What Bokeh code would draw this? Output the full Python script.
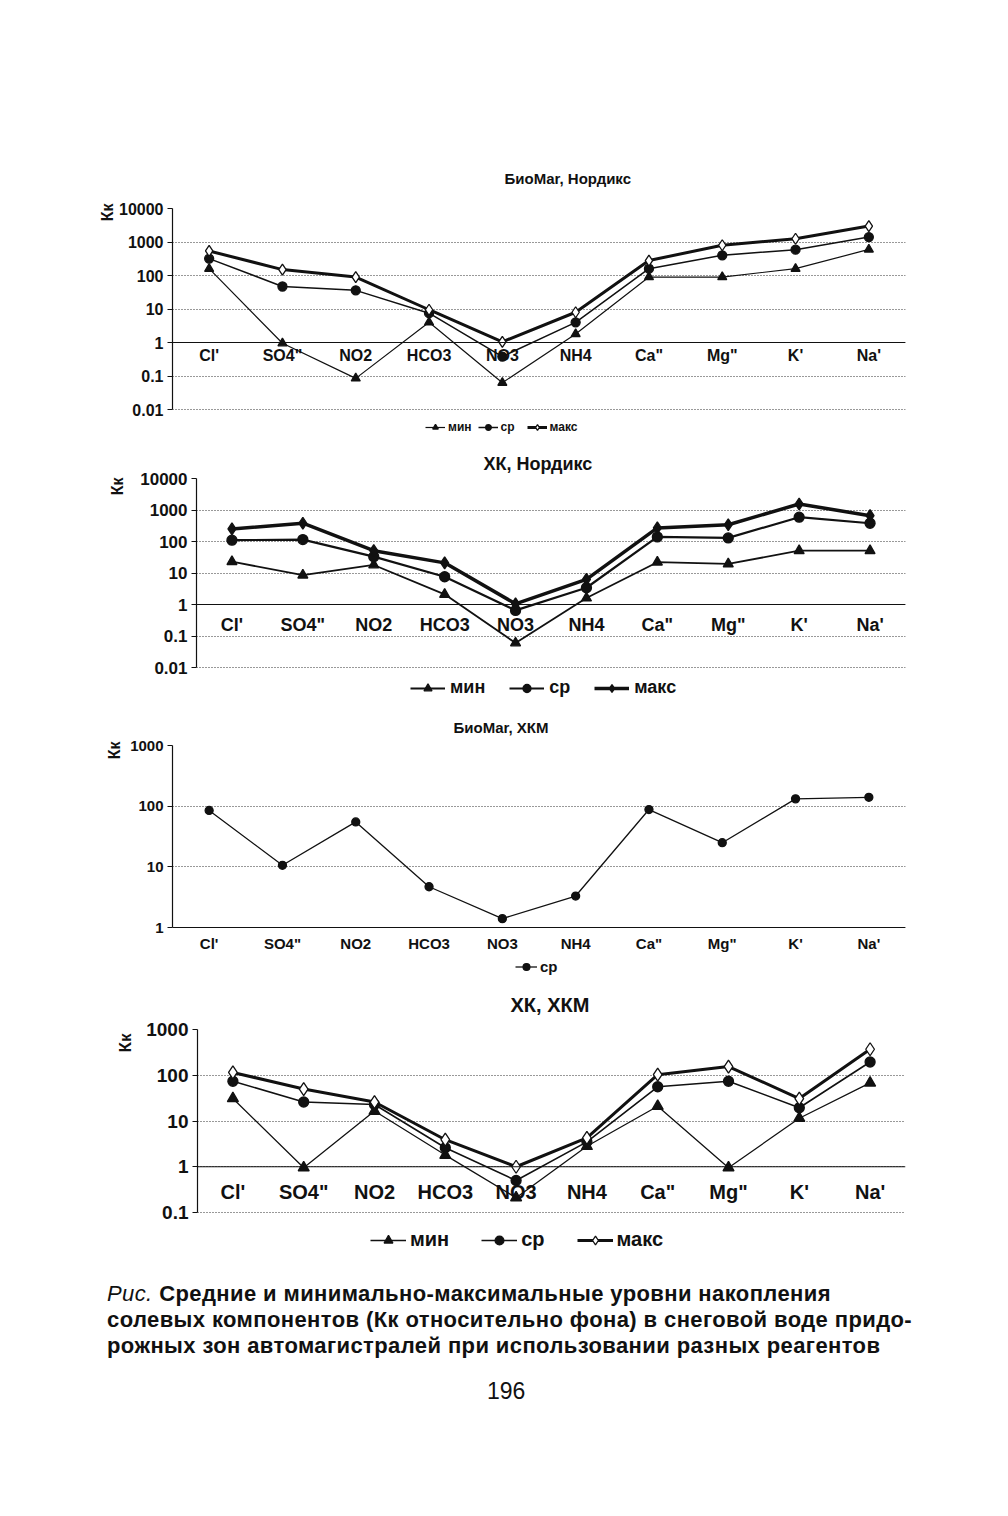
from bokeh.plotting import figure
from bokeh.models import (ColumnDataSource, FactorRange, Range1d, FixedTicker,
                          Title, Legend, LegendItem, Span, Div)
from bokeh.core.properties import value
from bokeh.embed import file_html
from bokeh.resources import INLINE

# ---------------- data ----------------
categories = ["Cl'", 'SO4"', "NO2", "HCO3", "NO3", "NH4", 'Ca"', 'Mg"', "K'", "Na'"]

series_names = ["мин", "ср", "макс"]

# Chart 1: БиоMar, Нордикс
c1_min = [160, 0.95, 0.085, 4.0, 0.063, 1.8, 90, 90, 160, 600]
c1_avg = [320, 47, 36, 7.5, 0.38, 4.0, 160, 400, 590, 1400]
c1_max = [540, 150, 90, 9.5, 1.05, 8.0, 280, 800, 1250, 3000]

# Chart 2: ХК, Нордикс
c2_min = [23, 8.5, 18, 2.1, 0.06, 1.6, 22, 19.5, 51, 51]
c2_avg = [110, 115, 33, 7.6, 0.65, 3.4, 140, 130, 590, 380]
c2_max = [250, 380, 51, 21, 1.05, 6.3, 270, 340, 1550, 660]

# Chart 3: БиоMar, ХКМ
c3_avg = [85, 10.6, 55, 4.7, 1.4, 3.3, 88, 25, 132, 140]

# Chart 4: ХК, ХКМ
c4_min = [31, 0.95, 16.5, 1.8, 0.21, 2.8, 21, 0.95, 11.5, 68]
c4_avg = [74, 26, 23, 2.6, 0.5, 3.5, 56, 74, 19.5, 195]
c4_max = [115, 50, 26, 3.9, 1.0, 4.3, 103, 155, 31, 370]

ticks_6dec = [0.01, 0.1, 1, 10, 100, 1000, 10000]
labels_6dec = ["0.01", "0.1", "1", "10", "100", "1000", "10000"]
ticks_3dec = [1, 10, 100, 1000]
labels_3dec = ["1", "10", "100", "1000"]
ticks_4dec = [0.1, 1, 10, 100, 1000]
labels_4dec = ["0.1", "1", "10", "100", "1000"]

titles = ["БиоMar, Нордикс", "ХК, Нордикс", "БиоMar, ХКМ", "ХК, ХКМ"]
y_label = "Кк"
cross_value = 1  # value where the category axis crosses

caption_prefix = "Рис."
caption_lines = [
    "Средние и минимально-максимальные уровни накопления",
    "солевых компонентов (Кк относительно фона) в снеговой воде придо-",
    "рожных зон автомагистралей при использовании разных реагентов",
]
page_number = "196"

FONT = "Liberation Sans"
INK = "#111111"
TOTAL_W = 990


def make_chart(title, title_off, title_fs, title_standoff,
               ticks, tlabels, tick_fs, ylab_fs, ylab_off, ylab_standoff,
               frame_w, axis_h, extra_h, b_left, b_top, b_bottom,
               series, cat_fs, cat_off,
               leg_x, leg_center, leg_fs, leg_gw, leg_spacing, leg_standoff):
    n_dec = len(ticks) - 1
    px_per_dec = axis_h / n_dec
    # extend the frame below the lowest tick so that the legend fits inside it
    y_start = ticks[0] * 10 ** (-extra_h / px_per_dec)
    p = figure(x_range=FactorRange(*categories, range_padding=0),
               y_range=Range1d(y_start, ticks[-1]), y_axis_type="log",
               frame_width=frame_w, frame_height=axis_h + extra_h,
               min_border_left=b_left, min_border_right=TOTAL_W - b_left - frame_w,
               min_border_top=b_top, min_border_bottom=b_bottom,
               output_backend="svg", toolbar_location=None,
               x_axis_location=None,
               background_fill_color="white", border_fill_color="white")
    p.outline_line_color = None

    # chart title
    p.title.text = title
    p.title.align = "left"
    p.title.offset = title_off
    p.title.text_font = FONT
    p.title.text_font_style = "bold"
    p.title.text_font_size = f"{title_fs}px"
    p.title.text_color = INK
    p.title.standoff = title_standoff

    # y axis
    ya = p.yaxis[0]
    ya.ticker = FixedTicker(ticks=ticks, minor_ticks=[])
    ya.bounds = (ticks[0], ticks[-1])
    ya.major_label_overrides = {t: l for t, l in zip(ticks, tlabels)}
    ya.major_label_text_font = FONT
    ya.major_label_text_font_style = "bold"
    ya.major_label_text_font_size = f"{tick_fs}px"
    ya.major_label_text_color = INK
    ya.axis_line_color = INK
    ya.axis_line_width = 1.2
    ya.major_tick_line_color = INK
    ya.major_tick_out = 5
    ya.major_tick_in = 0
    ya.major_label_standoff = 4

    p.add_layout(Title(text=y_label, align="right", offset=ylab_off,
                       text_font=FONT, text_font_style="bold",
                       text_font_size=f"{ylab_fs}px", text_color=INK,
                       standoff=ylab_standoff), "left")

    p.xgrid.grid_line_color = None
    p.ygrid.grid_line_color = "#333333"
    p.ygrid.grid_line_dash = "1 2"
    p.ygrid.grid_line_width = 1
    p.ygrid.ticker = FixedTicker(ticks=ticks, minor_ticks=[])

    # category axis crossing at 1, with its labels just below it
    p.add_layout(Span(location=cross_value, dimension="width",
                      line_color=INK, line_width=1.2))
    src = ColumnDataSource(dict(cat=categories, y=[cross_value] * len(categories)))
    p.text(x="cat", y="y", text="cat", source=src, y_offset=cat_off,
           text_align="center", text_baseline="middle",
           text_font=value(FONT), text_font_style="bold",
           text_font_size=f"{cat_fs}px", text_color=INK)

    items = []
    for name, vals, marker, lw, msize, fill in series:
        s = ColumnDataSource(dict(cat=categories, v=vals))
        ln = p.line(x="cat", y="v", source=s, line_color=INK, line_width=lw)
        sc = p.scatter(x="cat", y="v", source=s, marker=marker, size=msize,
                       line_color=INK, fill_color=fill, line_width=1.3)
        items.append(LegendItem(label=name, renderers=[ln, sc]))

    leg_h = leg_fs + 2
    leg_y = int(round(extra_h - leg_center - leg_h / 2))
    leg = Legend(items=items, orientation="horizontal", location=(leg_x, leg_y),
                 glyph_width=leg_gw, glyph_height=leg_h, label_standoff=leg_standoff,
                 spacing=leg_spacing, padding=0, margin=0,
                 border_line_color=None, background_fill_alpha=0,
                 label_text_font=FONT, label_text_font_style="bold",
                 label_text_font_size=f"{leg_fs}px", label_text_color=INK,
                 label_height=leg_h)
    p.add_layout(leg)
    return p


# Chart 1
p1 = make_chart(titles[0], 332, 15, 44,
                ticks_6dec, labels_6dec, 16, 16, -5, 2,
                733, 201, 32, 172, 208, 4,
                [(series_names[0], c1_min, "triangle", 1.2, 9, INK),
                 (series_names[1], c1_avg, "circle", 1.5, 9, INK),
                 (series_names[2], c1_max, "diamond", 3, 11, "white")],
                16, 13, 253, 18, 12, 20, 6, 3)

# Chart 2
p2 = make_chart(titles[1], 287, 18, 10,
                ticks_6dec, labels_6dec, 17, 16, -1, 24,
                709, 189, 39, 196, 33, 0,
                [(series_names[0], c2_min, "triangle", 1.8, 10, INK),
                 (series_names[1], c2_avg, "circle", 2.2, 10, INK),
                 (series_names[2], c2_max, "diamond", 3.5, 12, INK)],
                18, 20, 214, 21, 18, 35, 24, 5)

# Chart 3
p3 = make_chart(titles[2], 281, 15, 20,
                ticks_3dec, labels_3dec, 15, 16, -4, 9,
                733, 182, 50, 172, 35, 0,
                [(series_names[1], c3_avg, "circle", 1.3, 8, INK)],
                15, 16, 343, 40, 15, 22, 10, 3)

# Chart 4
p4 = make_chart(titles[3], 313, 20, 28,
                ticks_4dec, labels_4dec, 19, 17, 4, 17,
                708, 183, 50, 197, 43, 4,
                [(series_names[0], c4_min, "triangle", 1.3, 11, INK),
                 (series_names[1], c4_avg, "circle", 1.6, 10, INK),
                 (series_names[2], c4_max, "diamond", 3, 13, "white")],
                20, 25, 173, 28, 20, 36, 32, 4)

caption_html = (
    f'<div style="font-family:{FONT}; color:{INK}; width:960px;">'
    f'<div style="padding-left:102px; padding-top:10px; font-size:22px; letter-spacing:0.4px; '
    f'line-height:26px; font-weight:bold; white-space:nowrap;">'
    f'<span style="font-style:italic; font-weight:normal;">{caption_prefix}</span> {caption_lines[0]}<br>'
    f'{caption_lines[1]}<br>{caption_lines[2]}</div>'
    f'<div style="padding-left:482px; margin-top:19px; font-size:23px; line-height:26px;">{page_number}</div>'
    '</div>'
)
cap = Div(text=caption_html, width=TOTAL_W, height=150)

with open("out.html", "w") as f:
    f.write(file_html([p1, p2, p3, p4, cap], INLINE))
